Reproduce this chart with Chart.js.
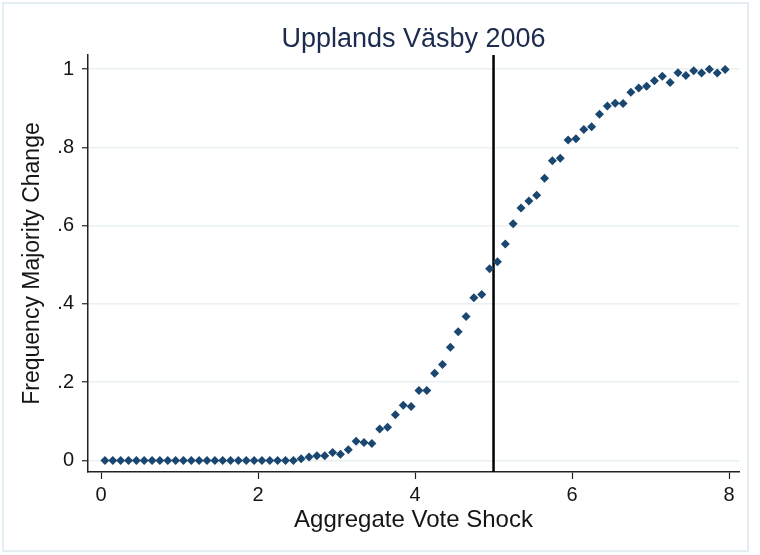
<!DOCTYPE html>
<html>
<head>
<meta charset="utf-8">
<script src="https://cdn.jsdelivr.net/npm/chart.js@4"></script>
<style>
  body { margin: 0; background: #fff; }
</style>
</head>
<body>
<canvas id="chart" width="760" height="555"></canvas>
<script>
const shockValues = [
  0.05, 0.15, 0.25, 0.35, 0.45, 0.55, 0.65, 0.75, 0.85, 0.95,
  1.05, 1.15, 1.25, 1.35, 1.45, 1.55, 1.65, 1.75, 1.85, 1.95,
  2.05, 2.15, 2.25, 2.35, 2.45, 2.55, 2.65, 2.75, 2.85, 2.95,
  3.05, 3.15, 3.25, 3.35, 3.45, 3.55, 3.65, 3.75, 3.85, 3.95,
  4.05, 4.15, 4.25, 4.35, 4.45, 4.55, 4.65, 4.75, 4.85, 4.95,
  5.05, 5.15, 5.25, 5.35, 5.45, 5.55, 5.65, 5.75, 5.85, 5.95,
  6.05, 6.15, 6.25, 6.35, 6.45, 6.55, 6.65, 6.75, 6.85, 6.95,
  7.05, 7.15, 7.25, 7.35, 7.45, 7.55, 7.65, 7.75, 7.85, 7.95
];
const freqChange = [
  0, 0, 0, 0, 0, 0, 0, 0, 0, 0,
  0, 0, 0, 0, 0, 0, 0, 0, 0, 0,
  0, 0, 0, 0, 0, 0.004, 0.009, 0.012, 0.012, 0.02,
  0.016, 0.027, 0.049, 0.046, 0.043, 0.08, 0.085, 0.117, 0.141, 0.138,
  0.179, 0.179, 0.223, 0.245, 0.289, 0.329, 0.368, 0.416, 0.424, 0.49,
  0.508, 0.553, 0.605, 0.645, 0.663, 0.678, 0.721, 0.766, 0.772, 0.819,
  0.822, 0.846, 0.853, 0.885, 0.906, 0.913, 0.912, 0.941, 0.952, 0.956,
  0.97, 0.982, 0.966, 0.991, 0.984, 0.996, 0.99, 1.0, 0.99, 0.999
];
const cutoff = 5;
const xTicks = [0, 2, 4, 6, 8];
const yTicks = [0, 0.2, 0.4, 0.6, 0.8, 1];
const yTickLabels = ["0", ".2", ".4", ".6", ".8", "1"];

const xMin = -0.166, xMax = 8.127;
const yMin = -0.0296, yMax = 1.036;

const points = shockValues.map((x, i) => ({ x: x, y: freqChange[i] }));

// white panel with the thin light frame round it
const framePlugin = {
  id: "frame",
  beforeDraw(chart) {
    const ctx = chart.ctx;
    ctx.save();
    ctx.fillStyle = "#ffffff";
    ctx.fillRect(0, 0, chart.width, chart.height);
    ctx.strokeStyle = "#e4edf0";
    ctx.lineWidth = 2;
    ctx.strokeRect(3, 3, 745, 548);
    ctx.restore();
  }
};

const font = "'Liberation Sans', Arial, sans-serif";

new Chart(document.getElementById("chart"), {
  type: "scatter",
  data: {
    datasets: [
      {
        label: "cutoff",
        type: "line",
        data: [{ x: cutoff, y: yMin }, { x: cutoff, y: yMax }],
        borderColor: "#000000",
        borderWidth: 2.5,
        pointRadius: 0,
        order: 2
      },
      {
        label: "Frequency Majority Change",
        data: points,
        pointStyle: "rectRot",
        pointRadius: 4.5,
        backgroundColor: "#1a476f",
        borderColor: "#1a476f",
        borderWidth: 0,
        order: 1
      }
    ]
  },
  options: {
    responsive: false,
    animation: false,
    events: [],
    layout: { padding: { left: 0, right: 21, top: 0, bottom: 0 } },
    plugins: {
      legend: { display: false },
      tooltip: { enabled: false },
      title: {
        display: true,
        fullSize: false, // centre over the plot area, not the canvas
        text: "Upplands Väsby 2006",
        color: "#1c2b4f",
        font: { family: font, size: 27, weight: "normal", lineHeight: 1.15 },
        padding: { top: 24, bottom: 0 }
      }
    },
    scales: {
      x: {
        type: "linear",
        min: xMin,
        max: xMax,
        afterBuildTicks: s => { s.ticks = xTicks.map(v => ({ value: v })); },
        afterFit: s => { s.height = 83; },
        border: { display: true, color: "#222222", width: 1.5 },
        grid: { drawOnChartArea: false, drawTicks: true, tickLength: 7, tickColor: "#222222", tickWidth: 1.2 },
        ticks: {
          color: "#151515",
          padding: 4,
          maxRotation: 0,
          font: { family: font, size: 20 }
        },
        title: {
          display: true,
          text: "Aggregate Vote Shock",
          color: "#151515",
          font: { family: font, size: 24 },
          padding: { top: 0, bottom: 20 }
        }
      },
      y: {
        type: "linear",
        min: yMin,
        max: yMax,
        afterBuildTicks: s => { s.ticks = yTicks.map(v => ({ value: v })); },
        afterFit: s => { s.width = 88; },
        border: { display: true, color: "#222222", width: 1.5 },
        grid: { color: "#e8f0f2", lineWidth: 1.5, drawTicks: true, tickLength: 6, tickColor: "#222222", tickWidth: 1.2 },
        ticks: {
          color: "#151515",
          padding: 8,
          font: { family: font, size: 20 },
          callback: v => {
            const i = yTicks.findIndex(t => Math.abs(t - v) < 1e-9);
            return i >= 0 ? yTickLabels[i] : "";
          }
        },
        title: {
          display: true,
          text: "Frequency Majority Change",
          color: "#151515",
          font: { family: font, size: 23 },
          padding: { top: 19, bottom: 0 }
        }
      }
    }
  },
  plugins: [framePlugin]
});
</script>
</body>
</html>
